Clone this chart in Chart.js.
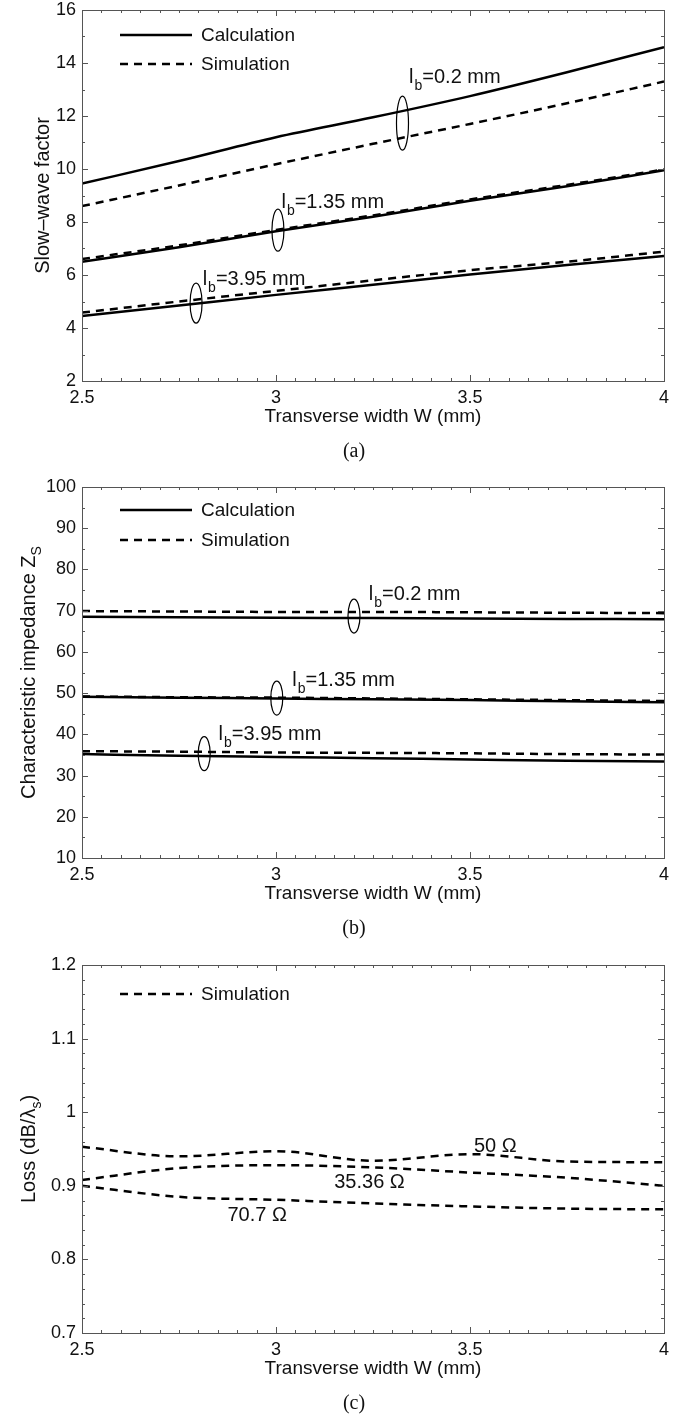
<!DOCTYPE html>
<html>
<head>
<meta charset="utf-8">
<script src="https://cdn.jsdelivr.net/npm/chart.js@4.4.1/dist/chart.umd.min.js"></script>
<style>
  html, body { margin: 0; padding: 0; background: #fff; overflow: hidden; }
  .panel { position: absolute; left: 0; }
</style>
</head>
<body>
<div class="panel" style="top:0"><canvas id="chartA" width="690" height="477"></canvas></div>
<div class="panel" style="top:477px"><canvas id="chartB" width="690" height="478"></canvas></div>
<div class="panel" style="top:955px"><canvas id="chartC" width="690" height="468"></canvas></div>
<script>
// transverse width W (mm)
const widths = [2.5, 2.75, 3, 3.25, 3.5, 3.75, 4];

// (a) slow-wave factor
const swCalc02 = [9.45, 10.3, 11.2, 11.95, 12.75, 13.65, 14.6];
const swSim02 = [8.6, 9.38, 10.18, 10.95, 11.7, 12.48, 13.3];
const swCalc135 = [6.5, 7.05, 7.65, 8.2, 8.8, 9.35, 9.95];
const swSim135 = [6.6, 7.12, 7.7, 8.25, 8.85, 9.4, 9.98];
const swCalc395 = [4.45, 4.85, 5.25, 5.63, 6.02, 6.38, 6.72];
const swSim395 = [4.58, 5.0, 5.4, 5.8, 6.18, 6.5, 6.88];

// (b) characteristic impedance
const zCalc02 = [68.5, 68.4, 68.3, 68.2, 68.1, 68.0, 67.9];
const zSim02 = [69.9, 69.8, 69.7, 69.7, 69.6, 69.5, 69.4];
const zCalc135 = [49.1, 48.9, 48.7, 48.5, 48.3, 48.0, 47.8];
const zSim135 = [49.2, 49.0, 48.9, 48.7, 48.5, 48.3, 48.1];
const zCalc395 = [35.2, 34.8, 34.5, 34.2, 33.9, 33.6, 33.4];
const zSim395 = [35.9, 35.8, 35.6, 35.5, 35.4, 35.2, 35.1];

// (c) loss, simulation only
const loss50 = [0.953, 0.940, 0.947, 0.934, 0.943, 0.933, 0.932];
const loss3536 = [0.908, 0.924, 0.928, 0.925, 0.918, 0.911, 0.900];
const loss707 = [0.900, 0.885, 0.881, 0.876, 0.872, 0.869, 0.868];

const legendNames = ['Calculation', 'Simulation'];
const xTitle = 'Transverse width W (mm)';

// curve labels: [text after "l_b", W, value]
const lbLabelsA = [['=0.2 mm', 3.343, 13.25], ['=1.35 mm', 3.014, 8.53], ['=3.95 mm', 2.811, 5.62]];
const lbLabelsB = [['=0.2 mm', 3.239, 72.6], ['=1.35 mm', 3.042, 51.7], ['=3.95 mm', 2.852, 38.6]];
const lossLabels = [['50 \u03A9', 3.51, 0.946], ['35.36 \u03A9', 3.15, 0.897], ['70.7 \u03A9', 2.875, 0.852]];

// ellipse centres [W, value]
const ellipsesA = [[3.326, 11.73], [3.005, 7.69], [2.794, 4.94]];
const ellipsesB = [[3.201, 68.7], [3.002, 48.8], [2.815, 35.3]];

const FONT = '"Liberation Sans", Arial, sans-serif';
const INK = '#111';
const AXIS = '#555';

function pts(ys) {
    return widths.map((w, i) => ({ x: w, y: ys[i] }));
}

function line(ys, dashed) {
    return {
        data: pts(ys),
        borderColor: '#000',
        borderWidth: 2.5,
        borderDash: dashed ? [8, 6] : [],
        pointRadius: 0,
        cubicInterpolationMode: 'monotone',
        fill: false
    };
}

function isMajor(v, every) {
    const k = v / every;
    return Math.abs(k - Math.round(k)) < 1e-6;
}

function fmt(v) {
    return String(parseFloat(v.toFixed(3)));
}

function drawTicks(ctx, chart) {
    const a = chart.chartArea;
    const xs = chart.scales.x, ys = chart.scales.y;
    ctx.save();
    ctx.strokeStyle = AXIS;
    ctx.lineWidth = 1;
    ctx.beginPath();
    xs.ticks.forEach(t => {
        const px = Math.round(xs.getPixelForValue(t.value)) + 0.5;
        const len = isMajor(t.value, 0.5) ? 6 : 3;
        ctx.moveTo(px, a.bottom); ctx.lineTo(px, a.bottom - len);
        ctx.moveTo(px, a.top); ctx.lineTo(px, a.top + len);
    });
    ys.ticks.forEach(t => {
        const py = Math.round(ys.getPixelForValue(t.value)) + 0.5;
        const len = t.label !== '' ? 6 : 3;
        ctx.moveTo(a.left, py); ctx.lineTo(a.left + len, py);
        ctx.moveTo(a.right, py); ctx.lineTo(a.right - len, py);
    });
    ctx.stroke();
    ctx.strokeRect(Math.round(a.left) + 0.5, Math.round(a.top) + 0.5,
        Math.round(a.right - a.left), Math.round(a.bottom - a.top));
    ctx.restore();
}

function drawLegend(ctx, chart, items) {
    const a = chart.chartArea;
    ctx.save();
    ctx.font = '19px ' + FONT;
    ctx.fillStyle = INK;
    ctx.textBaseline = 'middle';
    items.forEach(it => {
        const y = a.top + it.dy;
        ctx.beginPath();
        ctx.strokeStyle = '#000';
        ctx.lineWidth = 2.5;
        ctx.setLineDash(it.dashed ? [8, 6] : []);
        ctx.moveTo(a.left + 38, y);
        ctx.lineTo(a.left + 110, y);
        ctx.stroke();
        ctx.setLineDash([]);
        ctx.fillText(it.text, a.left + 119, y + 1);
    });
    ctx.restore();
}

function drawLb(ctx, chart, labels) {
    const xs = chart.scales.x, ys = chart.scales.y;
    ctx.save();
    ctx.fillStyle = INK;
    ctx.textBaseline = 'alphabetic';
    labels.forEach(([rest, w, v]) => {
        let x = xs.getPixelForValue(w);
        const y = ys.getPixelForValue(v);
        ctx.font = '20px ' + FONT;
        ctx.fillText('l', x, y);
        x += ctx.measureText('l').width + 1;
        ctx.font = '14px ' + FONT;
        ctx.fillText('b', x, y + 7);
        x += ctx.measureText('b').width;
        ctx.font = '20px ' + FONT;
        ctx.fillText(rest, x, y);
    });
    ctx.restore();
}

function drawEllipses(ctx, chart, list, ry) {
    const xs = chart.scales.x, ys = chart.scales.y;
    ctx.save();
    ctx.strokeStyle = '#000';
    ctx.lineWidth = 1.2;
    list.forEach(([w, v], i) => {
        ctx.beginPath();
        ctx.ellipse(xs.getPixelForValue(w), ys.getPixelForValue(v), 6, ry[i], 0, 0, Math.PI * 2);
        ctx.stroke();
    });
    ctx.restore();
}

function drawTitles(ctx, chart, yParts, caption) {
    const a = chart.chartArea;
    ctx.save();
    ctx.fillStyle = INK;
    // x title
    ctx.font = '19px ' + FONT;
    ctx.textAlign = 'center';
    ctx.textBaseline = 'middle';
    ctx.fillText(xTitle, (a.left + a.right) / 2, a.bottom + 36);
    // caption
    ctx.font = '20px "Liberation Serif", "Times New Roman", serif';
    ctx.fillText(caption, 354, a.bottom + 71);
    // y title with optional subscript, rotated
    ctx.translate(yParts.x, (a.top + a.bottom) / 2);
    ctx.rotate(-Math.PI / 2);
    ctx.textAlign = 'left';
    ctx.textBaseline = 'alphabetic';
    const main = '20px ' + FONT, small = '14px ' + FONT;
    ctx.font = main;
    let total = ctx.measureText(yParts.text).width;
    ctx.font = small;
    total += yParts.sub ? ctx.measureText(yParts.sub).width : 0;
    ctx.font = main;
    total += yParts.tail ? ctx.measureText(yParts.tail).width : 0;
    let x = -total / 2;
    ctx.font = main;
    ctx.fillText(yParts.text, x, 7);
    x += ctx.measureText(yParts.text).width;
    if (yParts.sub) {
        ctx.font = small;
        ctx.fillText(yParts.sub, x, 13);
        x += ctx.measureText(yParts.sub).width;
    }
    if (yParts.tail) {
        ctx.font = main;
        ctx.fillText(yParts.tail, x, 7);
    }
    ctx.restore();
}

function makeChart(id, cfg) {
    const canvas = document.getElementById(id);
    const plotH = cfg.plotH;
    return new Chart(canvas.getContext('2d'), {
        type: 'line',
        data: { datasets: cfg.datasets },
        options: {
            responsive: false,
            animation: false,
            events: [],
            layout: { padding: { top: 10, right: 26, left: 0, bottom: 0 } },
            plugins: { legend: { display: false }, tooltip: { enabled: false } },
            scales: {
                x: {
                    type: 'linear',
                    min: 2.5, max: 4,
                    grid: { display: false, drawTicks: false },
                    border: { display: false },
                    afterFit: s => {
                        s.height = canvas.height - 10 - plotH;
                        s.paddingLeft = 0; s.paddingRight = 0;
                    },
                    ticks: {
                        stepSize: 0.05,
                        autoSkip: false,
                        maxRotation: 0,
                        padding: 6,
                        color: INK,
                        font: { family: FONT, size: 18 },
                        callback: v => isMajor(v, 0.5) ? fmt(v) : ''
                    }
                },
                y: {
                    min: cfg.yMin, max: cfg.yMax,
                    grid: { display: false, drawTicks: false },
                    border: { display: false },
                    afterFit: s => {
                        s.width = 82;
                        s.paddingTop = 0; s.paddingBottom = 0;
                    },
                    ticks: {
                        stepSize: cfg.yMinor,
                        autoSkip: false,
                        padding: 6,
                        color: INK,
                        font: { family: FONT, size: 18 },
                        callback: v => isMajor(v, cfg.yMajor) ? fmt(v) : ''
                    }
                }
            }
        },
        plugins: [{
            id: 'decor',
            afterDraw: chart => {
                const ctx = chart.ctx;
                drawTicks(ctx, chart);
                cfg.extra(ctx, chart);
                drawTitles(ctx, chart, cfg.yTitle, cfg.caption);
            }
        }]
    });
}

makeChart('chartA', {
    plotH: 371, yMin: 2, yMax: 16, yMinor: 1, yMajor: 2,
    datasets: [line(swCalc02, false), line(swSim02, true), line(swCalc135, false),
        line(swSim135, true), line(swCalc395, false), line(swSim395, true)],
    yTitle: { text: 'Slow\u2013wave factor', x: 42 },
    caption: '(a)',
    extra: (ctx, chart) => {
        drawLegend(ctx, chart, [{ text: legendNames[0], dy: 25, dashed: false }, { text: legendNames[1], dy: 54, dashed: true }]);
        drawEllipses(ctx, chart, ellipsesA, [27, 21, 20]);
        drawLb(ctx, chart, lbLabelsA);
    }
});

makeChart('chartB', {
    plotH: 371, yMin: 10, yMax: 100, yMinor: 5, yMajor: 10,
    datasets: [line(zCalc02, false), line(zSim02, true), line(zCalc135, false),
        line(zSim135, true), line(zCalc395, false), line(zSim395, true)],
    yTitle: { text: 'Characteristic impedance Z', sub: 'S', x: 28 },
    caption: '(b)',
    extra: (ctx, chart) => {
        drawLegend(ctx, chart, [{ text: legendNames[0], dy: 23, dashed: false }, { text: legendNames[1], dy: 53, dashed: true }]);
        drawEllipses(ctx, chart, ellipsesB, [17, 17, 17]);
        drawLb(ctx, chart, lbLabelsB);
    }
});

makeChart('chartC', {
    plotH: 368, yMin: 0.7, yMax: 1.2, yMinor: 0.02, yMajor: 0.1,
    datasets: [line(loss50, true), line(loss3536, true), line(loss707, true)],
    yTitle: { text: 'Loss (dB/\u03BB', sub: 's', tail: ')', x: 28 },
    caption: '(c)',
    extra: (ctx, chart) => {
        drawLegend(ctx, chart, [{ text: legendNames[1], dy: 29, dashed: true }]);
        const xs = chart.scales.x, ys = chart.scales.y;
        ctx.save();
        ctx.font = '20px ' + FONT;
        ctx.fillStyle = INK;
        lossLabels.forEach(([t, w, v]) => ctx.fillText(t, xs.getPixelForValue(w), ys.getPixelForValue(v)));
        ctx.restore();
    }
});
</script>
</body>
</html>
